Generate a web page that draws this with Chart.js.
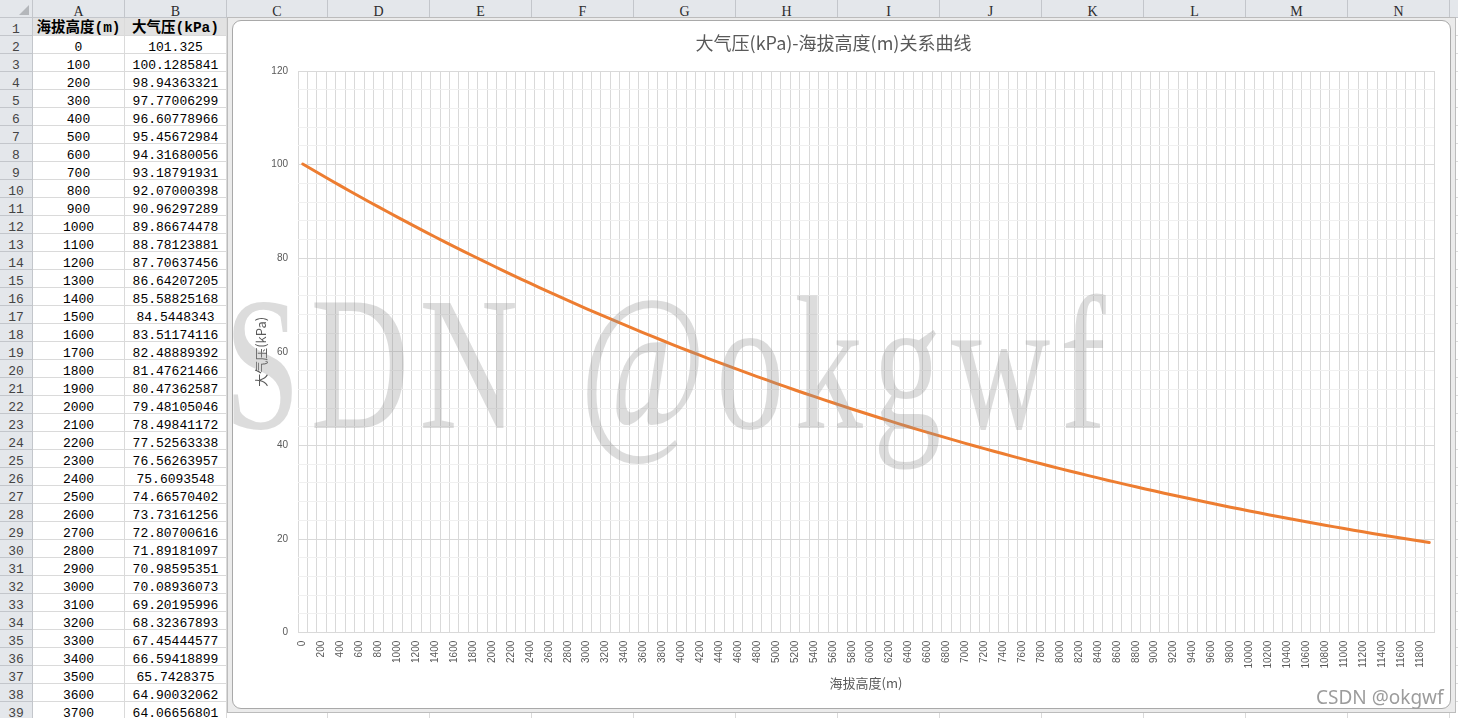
<!DOCTYPE html>
<html>
<head>
<meta charset="utf-8">
<script src="https://cdn.jsdelivr.net/npm/chart.js@4.4.0/dist/chart.umd.min.js"></script>
<style>
  html, body { margin:0; padding:0; width:1458px; height:718px; overflow:hidden; background:#fff; }
  #sheet { position:absolute; left:0; top:0; width:1458px; height:718px; overflow:hidden; }
  .hdr, .cell { position:absolute; box-sizing:border-box; text-align:center; white-space:nowrap; overflow:hidden; line-height:24px; }
  .hdr { background:#e4e7eb; border-right:1px solid #c3c6cb; border-bottom:1px solid #c3c6cb; color:#2b2b2b; font:14px/24px "Liberation Serif", serif; }
  .rowhdr { font:13px/23px "Liberation Mono", monospace; color:#444; }
  .cell { border-right:1px solid #dadada; border-bottom:1px solid #dadada; font:13px/23px "Liberation Mono", monospace; color:#000; }
  .cell.head { background:#e2e2e2; font:bold 14.5px/20px "Liberation Mono", "Noto Sans CJK SC", monospace; }
  .tri { position:absolute; left:19px; top:5px; width:0; height:0; border-left:10px solid transparent; border-bottom:10px solid #b4b7bb; }
  #frame { position:absolute; left:227px; top:17px; width:1229px; height:696px; background:#ebebeb; border:1px solid #bcbcbc; box-sizing:border-box; }
  #chartBox { position:absolute; left:232px; top:20px; width:1219px; height:689px; background:#fff; border:1px solid #a9a9a9; border-radius:9px; box-sizing:border-box; overflow:hidden; }
  #chartBox canvas { position:absolute; left:0; top:0; }
  .mark { position:absolute; pointer-events:none; white-space:nowrap; }
  .big { font-family:"Liberation Serif", serif; font-size:190px; line-height:190px; color:rgba(150,150,150,0.33); transform:scaleX(0.72); transform-origin:0 0; letter-spacing:14px; }
  #wm3 { font-family:"Noto Sans", sans-serif; font-size:19px; line-height:22px; color:#9c9c9c; }
</style>
</head>
<body>
<div id="sheet"></div>
<div id="frame"></div>
<div id="chartBox">
  <canvas id="c" width="1217" height="687"></canvas>
  <div class="mark big" style="left:-110px; top:248px;">CSDN</div>
  <div class="mark big" style="left:347px; top:248px;">@okgwf</div>
</div>
<div class="mark" id="wm3" style="left:1316px; top:686px;">CSDN @okgwf</div>
<script>
// 海拔高度 (m), column A
const altitude = [0,100,200,300,400,500,600,700,800,900,1000,1100,1200,1300,1400,1500,1600,1700,1800,1900,
  2000,2100,2200,2300,2400,2500,2600,2700,2800,2900,3000,3100,3200,3300,3400,3500,3600,3700,3800,3900,
  4000,4100,4200,4300,4400,4500,4600,4700,4800,4900,5000,5100,5200,5300,5400,5500,5600,5700,5800,5900,
  6000,6100,6200,6300,6400,6500,6600,6700,6800,6900,7000,7100,7200,7300,7400,7500,7600,7700,7800,7900,
  8000,8100,8200,8300,8400,8500,8600,8700,8800,8900,9000,9100,9200,9300,9400,9500,9600,9700,9800,9900,
  10000,10100,10200,10300,10400,10500,10600,10700,10800,10900,11000,11100,11200,11300,11400,11500,11600,11700,11800,11900];

// 大气压 (kPa), column B (0 .. 12000 m)
const pressure = [101.325,100.1285841,98.94363321,97.77006299,96.60778966,95.45672984,94.31680056,93.18791931,
  92.07000398,90.96297289,89.86674478,88.78123881,87.70637456,86.64207205,85.58825168,84.5448343,83.51174116,
  82.48889392,81.47621466,80.47362587,79.48105046,78.49841172,77.52563338,76.56263957,75.6093548,74.66570402,
  73.73161256,72.80700616,71.89181097,70.98595351,70.08936073,69.20195996,68.32367893,67.45444577,66.59418899,
  65.7428375,64.90032062,64.06656801,
  63.2395,62.4232,61.6174,60.8141,60.0212,59.2387,58.4664,57.7041,56.9424,56.1907,55.4489,54.7169,53.9946,
  53.2728,52.5606,51.8579,51.1646,50.4806,49.7971,49.1228,48.4576,47.8014,47.1541,46.5073,45.8693,45.2401,
  44.6195,44.0074,43.3958,42.7926,42.1979,41.6114,41.0331,40.4551,39.8853,39.3235,38.7697,38.2236,37.6779,
  37.1400,36.6098,36.0872,35.5720,35.0572,34.5498,34.0498,33.5570,33.0714,32.5861,32.1079,31.6368,31.1726,
  30.7151,30.2580,29.8077,29.3641,28.9271,28.4966,28.0664,27.6427,27.2254,26.8144,26.4098,26.0053,25.6070,
  25.2148,24.8286,24.4485,24.0685,23.6944,23.3262,22.9637,22.6067,22.2501,21.8991,21.5537,21.2137,20.8791,
  20.5447,20.2157,19.8920,19.5734,19.2599];

const colTitles = ['海拔高度(m)', '大气压(kPa)'];
const chartTitle = '大气压(kPa)-海拔高度(m)关系曲线';

// the chart series range starts one row below the labels (B3:B122 against A2:A121)
const chartValues = pressure.slice(1);

// ---- spreadsheet behind the chart ----
const colEdges = [0,33,125,227,328,430,532,634,736,838,940,1042,1144,1246,1348,1450,1552];
const colNames = ['','A','B','C','D','E','F','G','H','I','J','K','L','M','N','O'];
const sheet = document.getElementById('sheet');

function box(cls, x, y, w, h, text) {
  const d = document.createElement('div');
  d.className = cls;
  d.style.left = x + 'px'; d.style.top = y + 'px';
  d.style.width = w + 'px'; d.style.height = h + 'px';
  if (text !== undefined) d.textContent = text;
  sheet.appendChild(d);
  return d;
}

const corner = box('hdr', 0, 0, 33, 18);
corner.innerHTML = '<div class="tri"></div>';
for (let c = 1; c < colNames.length; c++) {
  box('hdr', colEdges[c], 0, colEdges[c + 1] - colEdges[c], 18, colNames[c]);
}
for (let r = 1; r <= 39; r++) {
  const y = 18 + (r - 1) * 18;
  box('hdr rowhdr', 0, y, 33, 18, r);
  for (let c = 1; c < colNames.length; c++) {
    const w = colEdges[c + 1] - colEdges[c];
    let text = '', cls = 'cell';
    if (r === 1 && c <= 2) { text = colTitles[c - 1]; cls = 'cell head'; }
    else if (r > 1 && c === 1) text = altitude[r - 2];
    else if (r > 1 && c === 2) text = String(pressure[r - 2]);
    box(cls, colEdges[c], y, w, 18, text);
  }
}

// ---- chart ----
const grey = '#595959';
new Chart(document.getElementById('c'), {
  type: 'line',
  data: {
    labels: altitude,
    datasets: [{
      data: chartValues,
      borderColor: '#ED7D31',
      borderWidth: 3,
      pointRadius: 0,
      tension: 0,
      borderCapStyle: 'round',
      borderJoinStyle: 'round',
      fill: false
    }]
  },
  options: {
    responsive: false,
    animation: false,
    devicePixelRatio: 1,
    layout: { padding: { left: 0, right: 16, top: 0, bottom: 0 } },
    plugins: {
      legend: { display: false },
      tooltip: { enabled: false },
      title: {
        display: true,
        text: chartTitle,
        color: grey,
        font: { family: '"Noto Sans CJK SC", sans-serif', size: 18, weight: 'normal' },
        padding: { top: 11.7, bottom: 16.7 }
      }
    },
    scales: {
      x: {
        offset: true,
        grid: { offset: true, color: '#d9d9d9', drawTicks: false },
        border: { display: false },
        ticks: {
          autoSkip: false, minRotation: 90, maxRotation: 90, padding: 8, color: grey,
          font: { family: '"Liberation Sans", sans-serif', size: 10 },
          callback: function (v, i) { return i % 2 === 0 ? this.getLabelForValue(v) : ''; }
        },
        title: {
          display: true, text: '海拔高度(m)', color: grey,
          font: { family: '"Noto Sans CJK SC", sans-serif', size: 13 },
          padding: { top: 0, bottom: 17 }
        },
        afterFit: s => { s.height = 75.3; }
      },
      y: {
        min: 0, max: 120,
        grid: { color: c => (c.tick.value % 20 === 0 ? '#d9d9d9' : '#f0f0f0'), drawTicks: false },
        border: { display: false },
        ticks: {
          stepSize: 4, autoSkip: false, padding: 10, color: grey,
          font: { family: '"Liberation Sans", sans-serif', size: 10 },
          callback: v => (v % 20 === 0 ? v : '')
        },
        title: {
          display: true, text: '大气压(kPa)', color: grey,
          font: { family: '"Noto Sans CJK SC", sans-serif', size: 13 },
          padding: { top: 20, bottom: 0 }
        },
        afterFit: s => { s.width = 65; }
      }
    }
  }
});
</script>
</body>
</html>
